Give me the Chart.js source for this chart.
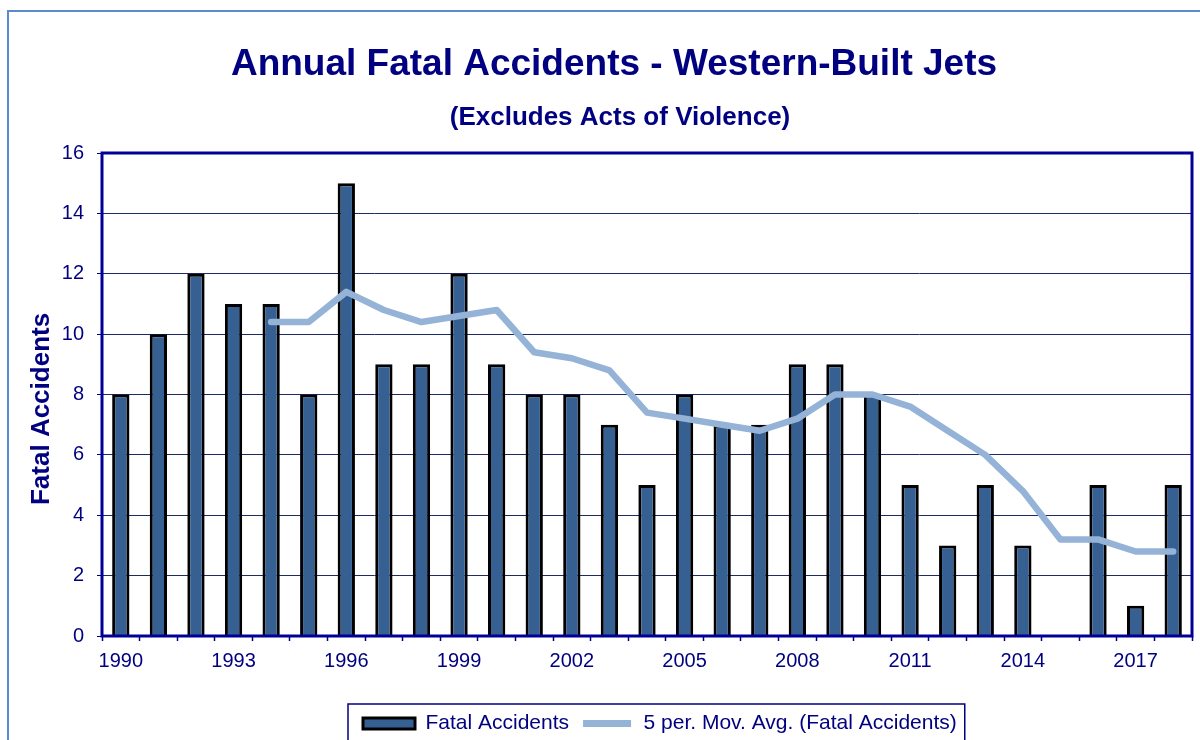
<!DOCTYPE html>
<html>
<head>
<meta charset="utf-8">
<script src="https://cdn.jsdelivr.net/npm/chart.js@4.4.1/dist/chart.umd.min.js"></script>
<style>
  html, body { margin: 0; padding: 0; background: #ffffff; }
  #wrap { width: 1200px; height: 740px; position: relative; }
</style>
</head>
<body>
<div id="wrap"><canvas id="c" width="1200" height="740"></canvas></div>
<script>
// ---- data ----
const years = ['1990','1991','1992','1993','1994','1995','1996','1997','1998','1999',
               '2000','2001','2002','2003','2004','2005','2006','2007','2008','2009',
               '2010','2011','2012','2013','2014','2015','2016','2017','2018'];
const fatalAccidents = [8,10,12,11,11,8,15,9,9,12,9,8,8,7,5,8,7,7,9,9,8,5,3,5,3,0,5,1,5];
const movingAverage = [null,null,null,null,10.4,10.4,11.4,10.8,10.4,10.6,10.8,9.4,9.2,8.8,7.4,7.2,7.0,6.8,7.2,8.0,8.0,7.6,6.8,6.0,4.8,3.2,3.2,2.8,2.8];
const xLabelEvery = 3;
const yMin = 0, yMax = 16, yStep = 2;
const titleText = 'Annual Fatal Accidents - Western-Built Jets';
const subtitleText = '(Excludes Acts of Violence)';
const yAxisTitle = 'Fatal Accidents';
const barLabel = 'Fatal Accidents';
const lineLabel = '5 per. Mov. Avg. (Fatal Accidents)';

// ---- styles ----
const NAVY = '#000080';
const BAR_FILL = '#376092';
const LINE_COLOR = '#95B3D7';
const FONT = '"Liberation Sans", Arial, Helvetica, sans-serif';

const placePlugin = {
  id: 'placePlugin',
  afterUpdate(chart) {
    const tb = chart.titleBlock;
    if (tb) { const dx = 614 - (tb.left + tb.right) / 2; tb.left += dx; tb.right += dx; }
    const sb = chart.boxes.find(b => b !== tb && b !== chart.legend && b.options && b.options.text === subtitleText);
    if (sb) { const dx = 620 - (sb.left + sb.right) / 2; sb.left += dx; sb.right += dx; }
    const lg = chart.legend;
    if (lg && lg.legendHitBoxes && lg.legendHitBoxes.length) {
      const hb = lg.legendHitBoxes;
      const dx = 363 - hb[0].left;
      const dy = 713 - hb[0].top;
      lg.left += dx; lg.right += dx; lg.top += dy; lg.bottom += dy;
      hb.forEach(h => { h.left += dx; h.top += dy; });
    }
  },
  beforeDraw(chart) {
    const ctx = chart.ctx;
    ctx.save();
    ctx.fillStyle = '#ffffff';
    ctx.fillRect(0, 0, chart.width, chart.height);
    ctx.strokeStyle = '#5B8BCB';
    ctx.lineWidth = 2;
    ctx.beginPath();
    ctx.moveTo(8, chart.height + 5);
    ctx.lineTo(8, 11);
    ctx.lineTo(chart.width + 5, 11);
    ctx.stroke();
    ctx.restore();
  },
  afterDatasetsDraw(chart) {
    const {ctx, chartArea: a} = chart;
    ctx.save();
    ctx.strokeStyle = '#000099';
    ctx.lineWidth = 3;
    ctx.strokeRect(a.left, a.top, a.right - a.left, a.bottom - a.top);
    ctx.restore();
  },
  afterDraw(chart) {
    const lg = chart.legend;
    if (!lg || !lg.legendHitBoxes || !lg.legendHitBoxes.length) return;
    const hb = lg.legendHitBoxes;
    const last = hb[hb.length - 1];
    const ctx = chart.ctx;
    ctx.save();
    ctx.strokeStyle = NAVY;
    ctx.lineWidth = 1.5;
    const l = hb[0].left - 15, t = hb[0].top - 9, r = last.left + last.width + 8;
    ctx.strokeRect(l, t, r - l, chart.height + 20 - t);
    ctx.restore();
  }
};

new Chart(document.getElementById('c'), {
  data: {
    labels: years,
    datasets: [
      {
        type: 'bar',
        label: barLabel,
        data: fatalAccidents,
        backgroundColor: BAR_FILL,
        borderColor: '#000000',
        borderWidth: 3,
        barPercentage: 0.46,
        categoryPercentage: 1.0,
        order: 2
      },
      {
        type: 'line',
        label: lineLabel,
        data: movingAverage,
        borderColor: LINE_COLOR,
        backgroundColor: LINE_COLOR,
        borderWidth: 6.5,
        pointRadius: 0,
        tension: 0,
        fill: false,
        borderCapStyle: 'round',
        borderJoinStyle: 'round',
        order: 1
      }
    ]
  },
  options: {
    responsive: false,
    animation: false,
    devicePixelRatio: 1,
    layout: { padding: { left: 0, right: 8, top: 0, bottom: 0 } },
    plugins: {
      tooltip: { enabled: false },
      title: {
        display: true,
        text: titleText,
        color: NAVY,
        font: { family: FONT, size: 37, weight: 'bold', lineHeight: 1.2 },
        padding: { top: 42.8, bottom: 15.2 }
      },
      subtitle: {
        display: true,
        text: subtitleText,
        color: NAVY,
        font: { family: FONT, size: 26, weight: 'bold', lineHeight: 1.2 },
        padding: { top: 0, bottom: 19.4 }
      },
      legend: {
        display: true,
        position: 'bottom',
        labels: {
          boxWidth: 52,
          boxHeight: 11,
          padding: 12,
          color: NAVY,
          font: { family: FONT, size: 21 },
          generateLabels(chart) {
            return chart.data.datasets.map((ds, i) => ({
              text: ds.label,
              datasetIndex: i,
              fillStyle: ds.type === 'bar' ? BAR_FILL : LINE_COLOR,
              strokeStyle: ds.type === 'bar' ? '#000000' : '#ffffff',
              lineWidth: ds.type === 'bar' ? 3 : 4,
              fontColor: NAVY,
              hidden: false
            }));
          }
        }
      }
    },
    scales: {
      x: {
        type: 'category',
        offset: true,
        grid: {
          display: true,
          offset: true,
          drawOnChartArea: false,
          drawTicks: true,
          tickLength: 5,
          tickColor: NAVY,
          tickWidth: 1.5
        },
        border: { display: false },
        ticks: {
          autoSkip: false,
          maxRotation: 0,
          minRotation: 0,
          padding: 8,
          color: NAVY,
          font: { family: FONT, size: 20 },
          callback: function (value, index) { return index % xLabelEvery === 0 ? years[index] : ''; }
        },
        afterFit(scale) { scale.height = 61; }
      },
      y: {
        min: yMin,
        max: yMax,
        grid: {
          color: '#1c2a66',
          lineWidth: 1,
          drawTicks: true,
          tickLength: 5,
          tickColor: NAVY,
          tickWidth: 1
        },
        border: { display: false },
        ticks: {
          stepSize: yStep,
          padding: 13,
          color: NAVY,
          font: { family: FONT, size: 20 }
        },
        title: {
          display: true,
          text: yAxisTitle + '    ',
          color: NAVY,
          font: { family: FONT, size: 26, weight: 'bold', lineHeight: 1.2 },
          padding: { top: 26.4, bottom: 0 }
        },
        afterFit(scale) { scale.width = 102; }
      }
    }
  },
  plugins: [placePlugin]
});
</script>
</body>
</html>
